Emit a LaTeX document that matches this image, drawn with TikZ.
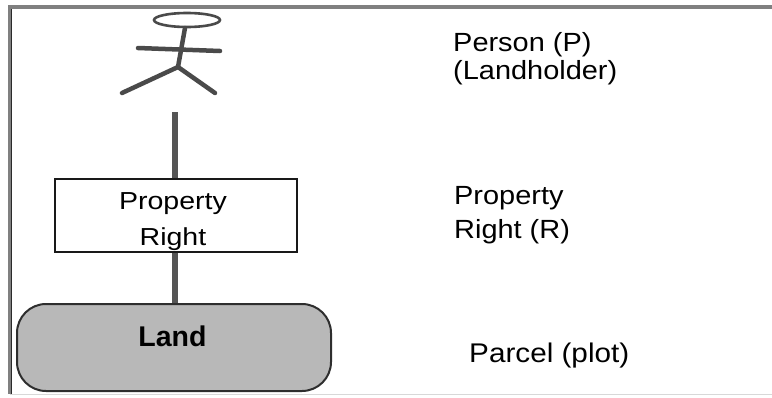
\documentclass[tikz,border=0pt]{standalone}
\usepackage{fontspec}
\setmainfont{Liberation Sans}[FakeStretch=1.1]
\newfontfamily\boxfont{Liberation Sans}[FakeStretch=1.16]
\newfontfamily\plainfont{Liberation Sans}
\definecolor{framegray}{HTML}{808080}
\definecolor{framedark}{HTML}{2A2A2A}
\definecolor{framefaint}{HTML}{D8D8D8}
\definecolor{linkgray}{HTML}{555555}
\definecolor{figgray}{HTML}{4A4A4A}
\definecolor{landfill}{HTML}{B8B8B8}
\definecolor{landedge}{HTML}{2E2E2E}
\begin{document}
\begin{tikzpicture}[x=1pt,y=-1pt,
  figline/.style={draw=figgray, line width=4.5pt, line cap=round},
  linkline/.style={draw=linkgray, line width=6pt},
  prbox/.style={draw=black!90, line width=2pt, fill=white, minimum width=242pt, minimum height=73pt, inner sep=0pt},
  landbox/.style={draw=landedge, line width=2pt, fill=landfill, rounded corners=29pt, minimum width=314pt, minimum height=87pt, inner sep=0pt},
  sidetext/.style={anchor=base west, align=left, inner sep=0pt, text=black},
  boxtext/.style={anchor=base, align=center, inner sep=0pt, text=black}
]
\useasboundingbox (0,0) rectangle (772,397);
% frame
\draw[framefaint, line width=1pt] (10,394) -- (772,394);
\draw[framegray, line width=4pt] (8,7) -- (772,7);
\draw[framegray, line width=4pt] (10,5) -- (10,394);
\draw[framedark, line width=1pt] (11.5,9) -- (11.5,394);
% stick figure
\draw[draw=figgray, line width=2.6pt] (187,20) ellipse [x radius=33, y radius=7];
\coordinate (neck) at (185,28);
\coordinate (hip) at (178,67);
\coordinate (lhand) at (138,48);
\coordinate (rhand) at (220,51);
\coordinate (lfoot) at (122,93);
\coordinate (rfoot) at (215,93);
\draw[figline] (neck) -- (hip);
\draw[figline] (lhand) -- (rhand);
\draw[figline] (lfoot) -- (hip) -- (rfoot);
% nodes
\node[prbox] (pr) at (176,215.5) {};
\node[landbox] (land) at (174,347.5) {};
\coordinate (linktop) at (175,112);
\draw[linkline] (linktop) -- (linktop |- pr.north);
\draw[linkline] (linktop |- pr.south) -- (linktop |- land.north);
\node[boxtext, font={\boxfont\fontsize{24.6}{36}\selectfont}] (prt) at (173,245) {Property\\Right};
\node[boxtext, font={\plainfont\bfseries\fontsize{28.5}{30}\selectfont}] (landt) at (172.5,346) {Land};
% side labels
\node[sidetext, font={\fontsize{26.3}{27.6}\selectfont}] (plabel) at (453,79.3) {Person (P)\\(Landholder)};
\node[sidetext, font={\fontsize{26.3}{34}\selectfont}] (rlabel) at (454,238) {Property\\Right (R)};
\node[sidetext, font={\fontsize{27}{30}\selectfont}] (llabel) at (469,362) {Parcel (plot)};
\end{tikzpicture}
\end{document}
